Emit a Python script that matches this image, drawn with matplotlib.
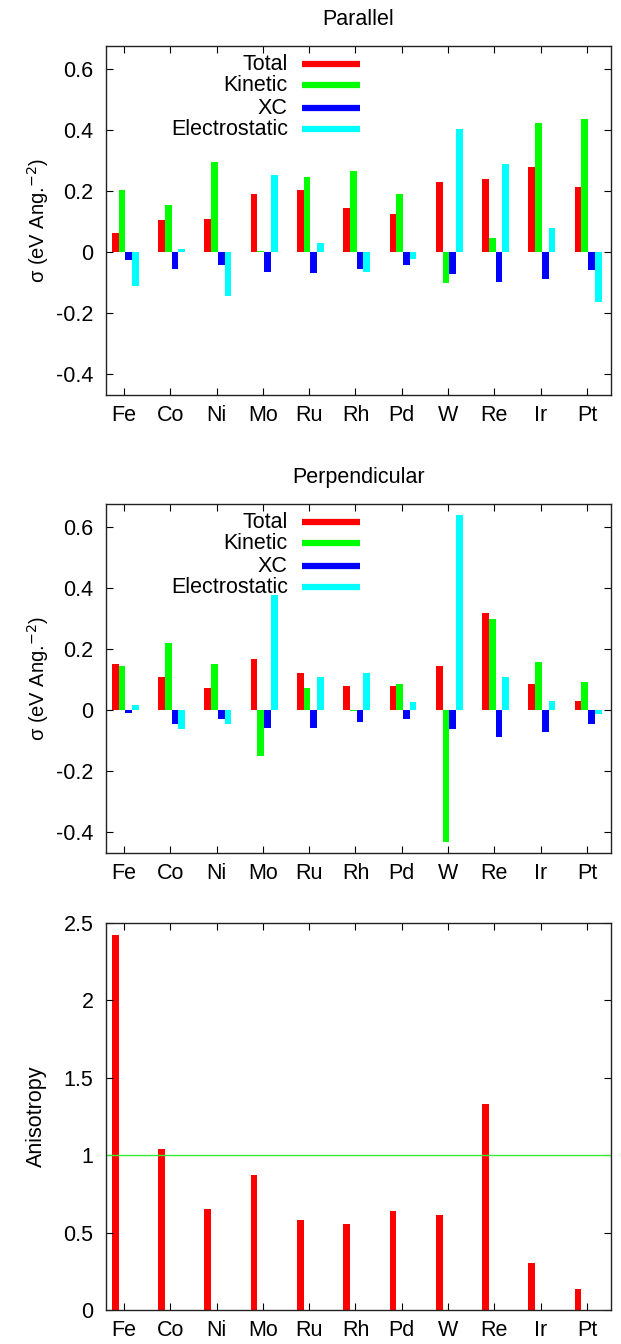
import numpy as np
import matplotlib
matplotlib.use("Agg")
from matplotlib import pyplot as plt

plt.rcParams['font.family'] = ['Liberation Sans', 'DejaVu Sans']
plt.rcParams['font.size'] = 15.5

metals = ['Fe', 'Co', 'Ni', 'Mo', 'Ru', 'Rh', 'Pd', 'W', 'Re', 'Ir', 'Pt']
series = ['Total', 'Kinetic', 'XC', 'Electrostatic']
colors = ['#ff0000', '#00ff00', '#0000ff', '#00ffff']

# parallel components
par_total = [0.062, 0.105, 0.109, 0.188, 0.203, 0.143, 0.123, 0.230, 0.237, 0.278, 0.211]
par_kinetic = [0.201, 0.152, 0.295, 0.004, 0.246, 0.264, 0.190, -0.103, 0.046, 0.423, 0.436]
par_xc = [-0.027, -0.057, -0.042, -0.067, -0.069, -0.056, -0.044, -0.072, -0.099, -0.089, -0.061]
par_elec = [-0.114, 0.009, -0.146, 0.251, 0.027, -0.068, -0.025, 0.402, 0.289, 0.078, -0.165]

# perpendicular components
perp_total = [0.151, 0.109, 0.071, 0.165, 0.119, 0.079, 0.079, 0.142, 0.318, 0.084, 0.028]
perp_kinetic = [0.143, 0.220, 0.150, -0.153, 0.072, -0.003, 0.084, -0.433, 0.298, 0.157, 0.090]
perp_xc = [-0.009, -0.046, -0.031, -0.059, -0.060, -0.040, -0.030, -0.064, -0.089, -0.072, -0.047]
perp_elec = [0.016, -0.063, -0.046, 0.377, 0.106, 0.122, 0.024, 0.639, 0.108, 0.030, -0.014]

anisotropy = [2.42, 1.037, 0.65, 0.871, 0.581, 0.553, 0.641, 0.617, 1.33, 0.301, 0.133]

x = np.arange(len(metals))
offsets = [-0.19, -0.045, 0.10, 0.245]
bw = 0.145

fig = plt.figure(figsize=(6.21, 13.44), dpi=100)

def style_axis(ax):
    ax.set_xlim(-0.39, 10.52)
    ax.set_xticks(x)
    ax.set_xticklabels(metals)
    ax.tick_params(direction='in', top=True, right=True, length=5, width=0.8, pad=7)
    ax.tick_params(axis='y', pad=9)
    for s in ax.spines.values():
        s.set_linewidth(1.0)
        s.set_color('#222222')

def component_panel(rect, title, vals):
    ax = fig.add_axes(rect)
    for i, v in enumerate(vals):
        ax.bar(x + offsets[i], v, width=bw, color=colors[i], linewidth=0)
    style_axis(ax)
    ax.set_ylim(-0.47, 0.675)
    ax.set_yticks([-0.4, -0.2, 0, 0.2, 0.4, 0.6])
    ax.set_yticklabels(['-0.4', '-0.2', '0', '0.2', '0.4', '0.6'])
    ax.set_ylabel(r'σ (eV Ang.$^{-2}$)', fontsize=14.5, labelpad=4)
    ax.set_title(title, fontsize=15.5, pad=15)
    # gnuplot-like key: right-aligned text then a line sample
    ys = [0.948, 0.888, 0.822, 0.762]
    for name, c, yy in zip(series, colors, ys):
        ax.text(0.36, yy, name, transform=ax.transAxes, ha='right', va='center')
        ax.plot([0.388, 0.503], [yy, yy], transform=ax.transAxes, color=c, lw=4.5,
                solid_capstyle='butt')
    return ax

component_panel([0.1707, 0.7061, 0.8132, 0.2597], 'Parallel',
                [par_total, par_kinetic, par_xc, par_elec])
component_panel([0.1707, 0.3653, 0.8132, 0.2597], 'Perpendicular',
                [perp_total, perp_kinetic, perp_xc, perp_elec])

ax3 = fig.add_axes([0.1707, 0.0253, 0.8132, 0.2879])
ax3.bar(x + offsets[0], anisotropy, width=bw, color=colors[0], linewidth=0)
ax3.axhline(1.0, color='#33ee33', lw=1.0)
style_axis(ax3)
ax3.set_ylim(0, 2.5)
ax3.set_yticks([0, 0.5, 1, 1.5, 2, 2.5])
ax3.set_yticklabels(['0', '0.5', '1', '1.5', '2', '2.5'])
ax3.set_ylabel('Anisotropy', labelpad=12)

fig.savefig('out.png', dpi=100)
